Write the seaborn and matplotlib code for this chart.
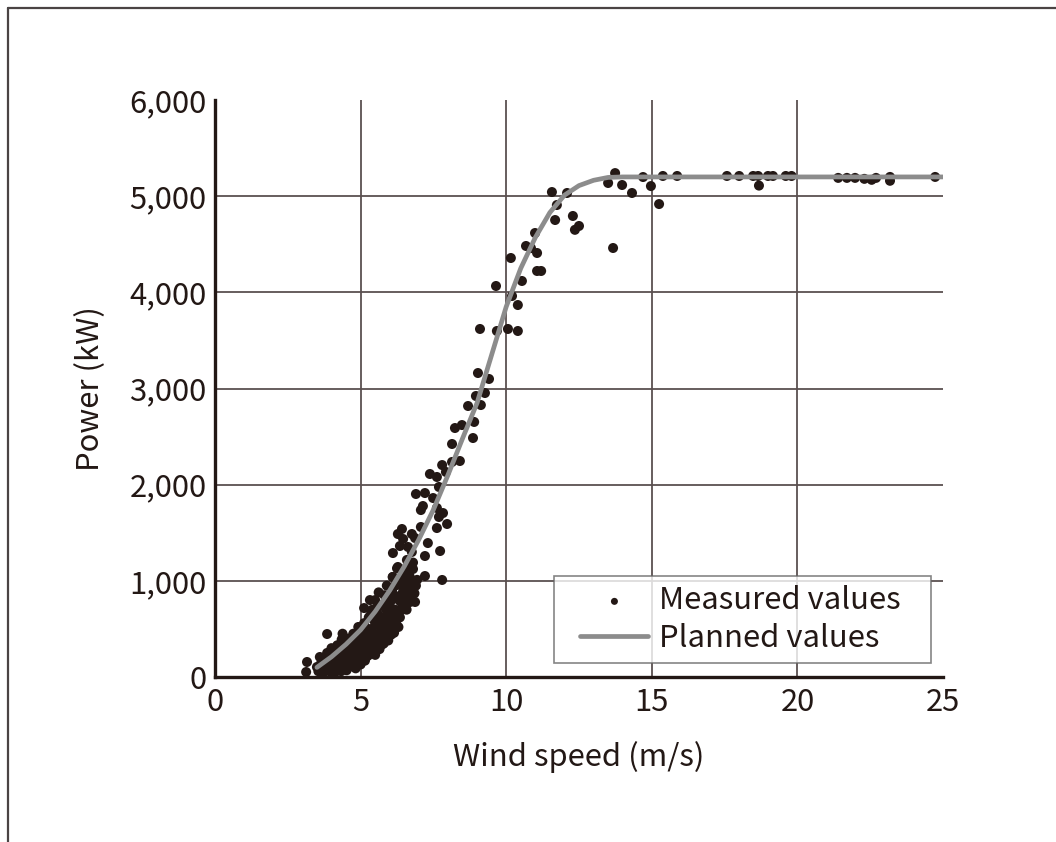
import matplotlib
matplotlib.use("Agg")
import matplotlib.pyplot as plt
import seaborn as sns
import pandas as pd
from matplotlib.lines import Line2D
from matplotlib.collections import PathCollection
from matplotlib.legend_handler import HandlerLine2D, HandlerPathCollection

# ---------------- data ----------------
# measured values: wind speed (m/s)
meas_x = [
    # low-speed dense band
    3.13, 3.16, 3.5, 3.6, 3.55, 3.62, 3.7, 3.75, 3.8, 3.85, 3.85,
    3.92, 3.95, 4.0, 4.02, 4.05, 4.1,
    4.15, 4.2, 4.22, 4.28, 4.3, 4.35, 4.33, 4.38,
    4.4, 4.45, 4.48, 4.52, 4.55, 4.58, 4.6,
    4.65, 4.68, 4.72, 4.75, 4.78, 4.8, 4.85, 4.83,
    4.9, 4.92, 4.95, 5.0, 5.02, 5.05, 5.08, 5.1,
    5.12, 5.15, 5.18, 5.2, 5.22, 5.25, 5.28, 5.3, 5.12, 5.32,
    5.35, 5.38, 5.4, 5.42, 5.45, 5.48, 5.5, 5.5,
    5.55, 5.58, 5.6, 5.62, 5.65, 5.68, 5.7, 5.7,
    5.75, 5.78, 5.8, 5.82, 5.85, 5.88, 5.9, 5.9,
    5.95, 5.98, 6.0, 6.02, 6.05, 6.08, 6.1, 6.1,
    6.15, 6.18, 6.2, 6.22, 6.25, 6.28, 6.3, 6.3,
    6.35, 6.38, 6.4, 6.42, 6.45, 6.48, 6.5, 6.5,
    6.55, 6.6, 6.62, 6.68, 6.7, 6.75, 6.8, 6.85, 6.87, 6.94,
    5.05, 5.15, 5.25, 5.35, 5.45, 5.55, 5.6, 5.65, 5.72, 5.8,
    5.85, 5.92, 6.0, 6.05, 6.12, 6.18, 6.25, 6.32, 6.38, 6.45,
    6.52, 6.58, 6.65, 6.72, 6.78, 4.5, 4.7, 4.9, 4.6, 4.95,
    6.9, 6.6,
    # rising part
    6.11, 6.28, 6.8, 7.21, 7.8, 6.59, 7.21, 6.11, 6.76, 7.73,
    6.35, 6.63, 7.31, 6.46, 6.87, 6.28, 6.76, 6.42, 7.07, 7.62,
    7.97, 7.69, 7.07, 7.83, 7.14, 7.62, 7.49, 6.9, 7.21, 7.69,
    7.38, 7.62, 7.93, 7.8, 8.14, 8.41, 8.14, 8.86, 8.24, 8.48,
    8.9, 8.69, 9.13, 8.96, 9.27, 9.41, 9.03,
    9.1, 9.68, 10.06, 10.4, 10.4, 10.2, 9.65, 10.54, 11.06, 11.2,
    10.16, 11.06, 10.68, 10.85, 10.99, 11.68, 11.74, 12.29, 12.36, 12.5,
    11.57, 12.09,
    # plateau
    13.5, 13.74, 13.98, 13.67, 14.32, 14.7, 14.97, 15.25, 15.38, 15.87,
    17.58, 18.0, 18.48, 18.65, 18.68, 18.99, 19.16, 19.6, 19.8,
    21.4, 21.7, 21.98, 22.3, 22.55, 22.7, 23.18, 23.18, 24.73,
]
# measured values: power (kW)
meas_y = [
    52, 156, 104, 208, 60, 130, 40, 190, 100, 250, 447,
    60, 160, 300, 230, 110, 40,
    180, 330, 90, 260, 150, 390, 60, 450,
    220, 120, 320, 70, 260, 400, 170,
    110, 300, 210, 450, 140, 370, 260, 90,
    180, 520, 330, 130, 420, 250, 200, 350,
    560, 170, 460, 290, 380, 220, 620, 320, 717, 800,
    250, 500, 700, 400, 300, 580, 230, 800,
    350, 660, 450, 880, 290, 540, 740, 400,
    340, 620, 480, 850, 400, 700, 560, 950,
    380, 640, 500, 780, 440, 900, 600, 1040,
    460, 700, 560, 840, 1130, 640, 960, 520,
    620, 780, 1000, 700, 880, 740, 1080, 820,
    760, 950, 860, 1050, 780, 920, 1190, 870, 780, 1010,
    480, 300, 500, 650, 450, 550, 750, 620, 560, 350,
    780, 450, 700, 850, 520, 950, 600, 800, 700, 980,
    900, 700, 1000, 850, 1000, 230, 380, 300, 330, 450,
    950, 1150,
    1040, 1144, 1123, 1050, 1009, 1217, 1258, 1289, 1300, 1310,
    1362, 1352, 1393, 1435, 1445, 1487, 1487, 1539, 1560, 1549,
    1591, 1664, 1736, 1705, 1778, 1757, 1861, 1903, 1913, 1976,
    2111, 2080, 2132, 2204, 2236, 2246, 2423, 2485, 2589, 2620,
    2652, 2818, 2828, 2922, 2953, 3099, 3161,
    3619, 3598, 3619, 3598, 3868, 3962, 4066, 4118, 4222, 4222,
    4357, 4409, 4482, 4460, 4617, 4752, 4908, 4794, 4650, 4690,
    5043, 5033,
    5137, 5240, 5116, 4461, 5033, 5199, 5105, 4918, 5210, 5210,
    5210, 5210, 5210, 5210, 5110, 5210, 5210, 5210, 5210,
    5190, 5190, 5190, 5180, 5170, 5190, 5200, 5160, 5200,
]
# planned (design) power curve
plan_x = [3.5, 4.0, 4.5, 5.0, 5.5, 6.0, 6.5, 7.0, 7.5, 8.0, 8.5, 9.0, 9.5,
          10.0, 10.5, 11.0, 11.5, 12.0, 12.5, 13.0, 13.5, 14.0, 25.0]
plan_y = [100, 210, 340, 490, 680, 900, 1150, 1430, 1740, 2100, 2480, 2850, 3350,
          3850, 4250, 4570, 4830, 5010, 5110, 5165, 5195, 5200, 5200]

x_ticks = [0, 5, 10, 15, 20, 25]
y_ticks = [0, 1000, 2000, 3000, 4000, 5000, 6000]
y_tick_labels = ["0", "1,000", "2,000", "3,000", "4,000", "5,000", "6,000"]

x_label = "Wind speed (m/s)"
y_label = "Power (kW)"
legend_labels = ["Measured values", "Planned values"]

# ---------------- style ----------------
sns.set_theme(style="white")
plt.rcParams["font.family"] = ["Noto Sans CJK JP", "DejaVu Sans"]
INK = "#231815"
GRID = "#5a5050"
FS = 22.3

fig = plt.figure(figsize=(10.56, 8.42), dpi=100)
ax = fig.add_axes([215 / 1056, 1 - 677 / 842, (943 - 215) / 1056, (677 - 100) / 842])

meas = pd.DataFrame({"x": meas_x, "y": meas_y})
plan = pd.DataFrame({"x": plan_x, "y": plan_y})

# grid lines (interior ticks only)
for xv in x_ticks[1:-1]:
    ax.axvline(xv, color=GRID, lw=1.3, zorder=0)
for yv in y_ticks[1:-1]:
    ax.axhline(yv, color=GRID, lw=1.3, zorder=0)

sns.scatterplot(data=meas, x="x", y="y", ax=ax, color=INK, s=52,
                edgecolor="none", linewidth=0, zorder=3, label=legend_labels[0])
sns.lineplot(data=plan, x="x", y="y", ax=ax, color="#8c8c8c", lw=3.4,
             zorder=4, label=legend_labels[1], sort=False)

ax.set_xlim(0, 25)
ax.set_ylim(0, 6000)
ax.set_xticks(x_ticks)
ax.set_xticklabels([str(v) for v in x_ticks])
ax.set_yticks(y_ticks)
ax.set_yticklabels(y_tick_labels)
ax.tick_params(axis="both", direction="in", length=14, width=1.3, color=GRID,
               labelsize=FS, labelcolor=INK, pad=6)
ax.tick_params(axis="x", pad=7)

for side in ["top", "right"]:
    ax.spines[side].set_visible(False)
for side in ["left", "bottom"]:
    ax.spines[side].set_color(INK)
    ax.spines[side].set_linewidth(2.4)

ax.set_xlabel(x_label, fontsize=FS, color=INK, labelpad=17)
ax.set_ylabel(y_label, fontsize=FS, color=INK, labelpad=17)

XPAD = 0.55
leg = ax.legend(loc="lower left", bbox_to_anchor=(0.4657, 0.0243, 0.5179, 0.1),
                mode="expand", borderaxespad=0, fontsize=FS, frameon=True,
                fancybox=False, markerscale=0.7, handlelength=2.75,
                handletextpad=0.35, labelspacing=0.2, borderpad=0.3,
                handler_map={PathCollection: HandlerPathCollection(xpad=XPAD),
                             Line2D: HandlerLine2D(xpad=XPAD)})
leg.get_frame().set_edgecolor("#666666")
leg.get_frame().set_linewidth(1.2)
for t in leg.get_texts():
    t.set_color(INK)

# outer frame (top and left edges)
fig.add_artist(Line2D([8 / 1056, 8 / 1056], [0, 1 - 8 / 842],
                      transform=fig.transFigure, color="#4a4444", lw=1.6))
fig.add_artist(Line2D([8 / 1056, 1], [1 - 8 / 842, 1 - 8 / 842],
                      transform=fig.transFigure, color="#4a4444", lw=1.6))

fig.savefig("out.png", dpi=100, facecolor="white")
